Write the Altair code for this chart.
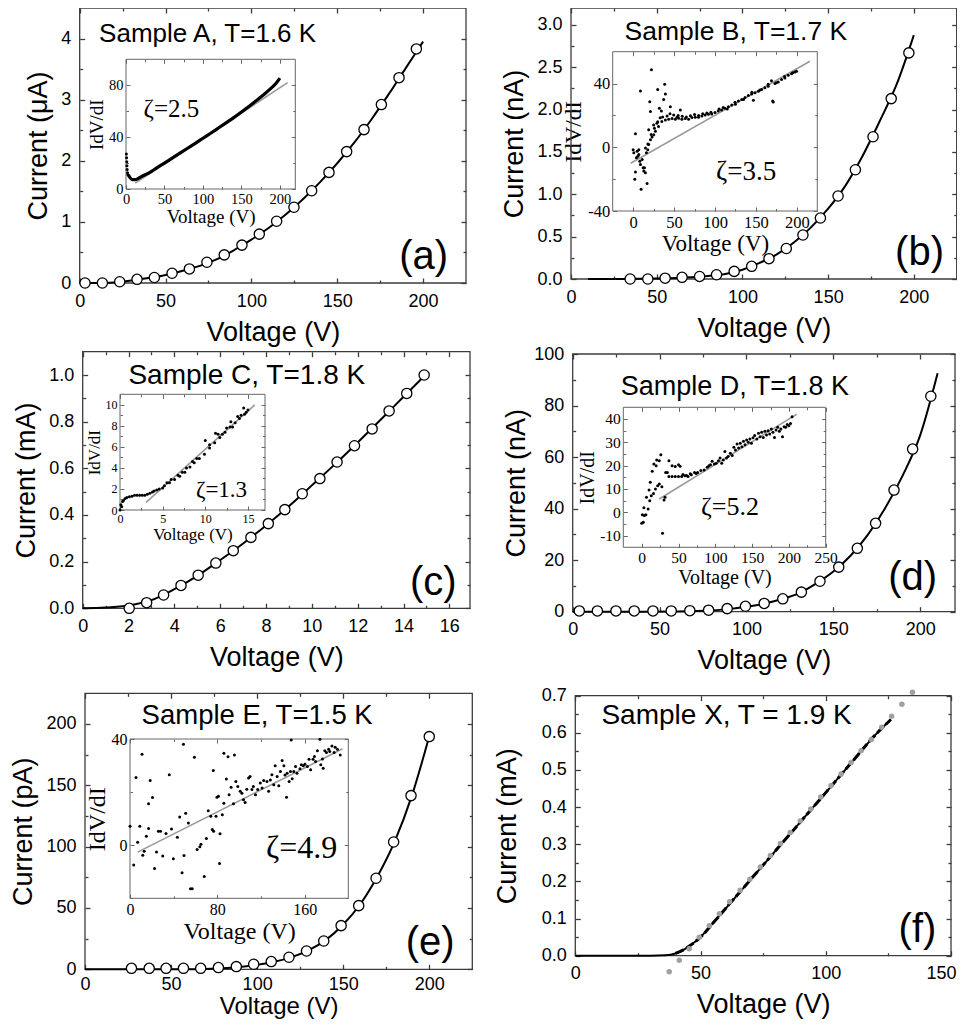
import altair as alt
import pandas as pd

W, H = 949, 1011   # whole view, page minus 8px margins
M = 8
SANS = "Liberation Sans"
SERIF = "Liberation Serif"

# ---------------- text ----------------
sample_titles = ["Sample A, T=1.6 K", "Sample B, T=1.7 K", "Sample C, T=1.8 K",
                 "Sample D, T=1.8 K", "Sample E, T=1.5 K", "Sample X, T = 1.9 K"]
panel_tags = ["(a)", "(b)", "(c)", "(d)", "(e)", "(f)"]
y_titles = ["Current (μA)", "Current (nA)", "Current (mA)", "Current (nA)", "Current (pA)", "Current (mA)"]
zeta_labels = ["ζ=2.5", "ζ=3.5", "ζ=1.3", "ζ=5.2", "ζ=4.9"]
x_title = "Voltage (V)"
inset_y_title = "IdV/dI"

# ---------------- panel (a) ----------------
a_circ_v = [3.1, 13.2, 23.3, 33.4, 43.5, 53.8, 63.9, 74.1, 84.2, 94.5, 104.6, 114.7, 124.8, 135.1, 145.2, 155.5, 165.6, 175.7, 186.0, 196.1]
a_circ_i = [0.0, 0.0, 0.02, 0.06, 0.09, 0.16, 0.23, 0.34, 0.46, 0.62, 0.80, 1.01, 1.24, 1.51, 1.81, 2.15, 2.51, 2.92, 3.36, 3.83]
a_fit_v = [0, 10, 20, 30, 40, 50, 60, 70, 80, 90, 100, 110, 120, 130, 140, 150, 160, 170, 180, 190, 200]
a_fit_i = [0, 0.0, 0.01, 0.04, 0.08, 0.13, 0.2, 0.28, 0.39, 0.54, 0.71, 0.90, 1.12, 1.37, 1.65, 1.96, 2.30, 2.68, 3.09, 3.52, 3.95]
a_ins_dots = [(0.5, 27), (0.8, 24), (1.0, 21), (1.2, 18), (1.5, 15), (2.0, 12.5), (2.5, 11)]
a_ins_curve_v = [3, 5, 8, 12, 16, 20, 30, 40, 50, 60, 70, 80, 90, 100, 110, 120, 130, 140, 150, 160, 170, 180, 190, 195, 200]
a_ins_curve_r = [11, 9, 7.3, 7.2, 8.2, 9.6, 12.5, 16.3, 20, 23.8, 27.6, 31.4, 35.2, 39.1, 43, 47, 51, 55, 59.3, 63.8, 68.4, 73.2, 78.5, 81.5, 85.5]
a_ins_fit_v = [12, 210]
a_ins_fit_r = [4.5, 82]

# ---------------- panel (b) ----------------
b_circ_v = [34.5, 44.8, 54.9, 64.8, 75.0, 84.9, 95.2, 105.4, 115.5, 125.6, 135.3, 145.5, 155.8, 165.9, 176.2, 186.8, 197.1]
b_circ_i = [0.0, 0.0, 0.01, 0.02, 0.03, 0.05, 0.09, 0.15, 0.24, 0.36, 0.52, 0.72, 0.98, 1.29, 1.68, 2.13, 2.67]
b_fit_v = [10, 30, 50, 70, 80, 90, 100, 110, 120, 130, 140, 150, 160, 170, 180, 190, 200]
b_fit_i = [0, 0, 0.005, 0.02, 0.035, 0.06, 0.11, 0.19, 0.29, 0.43, 0.61, 0.83, 1.10, 1.45, 1.86, 2.30, 2.88]
b_ins_pts = [(22.3, 48.7), (8.9, 35.4), (30, 36.3), (38.5, 39.6), (39.4, 33.4), (37.3, 30), (20.3, 28.6),
             (21.1, 22.4), (32, 24.5), (34.5, 22.8), (45.4, 25.5), (57.6, 23.4), (2.8, 8.5), (19, 11),
             (25, 14), (29, 15.1), (31, 13), (35, 16.2), (39.4, 17.2), (43.4, 17.6), (47.5, 18), (51.5, 17.6),
             (55.6, 18.2), (59.6, 17.6), (63.7, 18), (67.7, 17.6), (71.8, 18.7), (75.9, 18.9), (79.9, 18.9),
             (84, 19.7), (88, 20.3), (92, 20.7), (96, 20.9), (100, 21.8), (104, 22.8), (108, 23.4), (112, 24.5),
             (116.4, 25.5), (120.5, 26.5), (124.5, 28.2), (128.6, 29), (132.7, 30), (136.7, 31.3), (140.8, 32.5),
             (144.8, 33.4), (146.9, 29.6), (148.9, 34.2), (153, 35.2), (157, 36.3), (161, 37.3), (165, 38.3),
             (169, 41.7), (170.4, 29), (171.2, 28.4), (173.2, 40), (177.3, 41), (181.3, 42.5), (185.4, 43.5),
             (189.5, 45.2), (193.5, 46.2), (197.6, 47.3), (199.6, 47.7), (0, -1.5), (0.8, -3.5), (2, -20),
             (2.8, -15.5), (4, -6.6), (5.7, -5.6), (6.9, -4.6), (8.1, -8.7), (8.9, -10.8), (9.7, -26.3),
             (11, -7.7), (12.2, -12.8), (13, -14.9), (13.8, -12.8), (15, -16), (16.2, -3.5), (17, -22.8),
             (17.8, -1.5), (19, 1.7), (21.1, 4.8), (23.1, 6.4), (25.2, 7.9), (27.2, 10), (6.9, -1.5), (4.9, -2.5),
             (15, -0.4), (41.4, 19.7), (49.5, 20.3), (53.5, 18.9), (45, 21), (55, 20), (60, 19.5), (65, 19),
             (70, 19.8), (75, 20.5), (80, 20), (85, 21), (90, 21.5), (95, 22), (105, 24), (110, 25), (115, 24),
             (125, 27), (135, 30), (145, 34.5), (155, 36), (165, 39.5), (175, 40.5), (185, 44.5), (195, 46.8),
             (18, 2), (22, 8), (26, 12), (30, 16), (33, 18.5), (36, 19)]
b_ins_fit_v = [-3, 216]
b_ins_fit_r = [-10, 54]

# ---------------- panel (c) ----------------
c_circ_v = [2.03, 2.79, 3.53, 4.29, 5.04, 5.81, 6.57, 7.34, 8.10, 8.82, 9.58, 10.35, 11.10, 11.86, 12.63, 13.37, 14.14, 14.90]
c_circ_i = [0.0, 0.024, 0.057, 0.098, 0.142, 0.194, 0.247, 0.304, 0.363, 0.423, 0.491, 0.556, 0.627, 0.697, 0.769, 0.846, 0.921, 1.0]
c_fit_v = [0, 1, 2, 3, 4, 5, 6, 7, 8, 9, 10, 11, 12, 13, 14, 15.05]
c_fit_i = [0, 0.003, 0.012, 0.035, 0.082, 0.139, 0.207, 0.278, 0.355, 0.438, 0.527, 0.617, 0.711, 0.808, 0.907, 1.01]
c_ins_pts = [(0, 0), (0.1, 0.5), (0.3, 0.8), (0.6, 1.1), (1.1, 1.26), (1.7, 1.4), (2.3, 1.4), (2.9, 1.4), (3.5, 1.6),
             (4, 1.8), (4.6, 2.0), (5.2, 2.3), (5.8, 2.6), (6.4, 2.9), (7, 3.2), (7.6, 3.6), (8.2, 4.1), (8.7, 4.5),
             (9.3, 4.9), (9.9, 5.3), (10.5, 5.9), (11.1, 6.4), (11.7, 6.9), (12.3, 7.4), (12.9, 7.9), (13.5, 8.3),
             (14, 8.7), (14.6, 9.1), (15, 9.5), (10.0, 6.6), (10.5, 6.2), (11.2, 7.3), (11.5, 7.2), (12.0, 7.2),
             (12.5, 7.8), (13.0, 8.4), (13.2, 7.9), (13.8, 8.9), (14.2, 9.0), (14.5, 9.7), (14.8, 9.3), (9.0, 4.9),
             (8.5, 4.6), (7.8, 4.0), (7.3, 3.6), (6.8, 3.3), (6.0, 2.9), (5.5, 2.6), (5.0, 2.1), (0.2, 0.3),
             (0.4, 0.9), (0.8, 1.2), (1.4, 1.3), (2.0, 1.4), (2.6, 1.4), (3.2, 1.5), (3.8, 1.7), (4.3, 1.9)]
c_ins_fit_v = [3.06, 15.8]
c_ins_fit_r = [0.72, 10.0]

# ---------------- panel (d) ----------------
d_circ_v = [3.8, 14.2, 24.9, 35.4, 46.2, 56.7, 67.4, 78.2, 88.9, 99.4, 110.2, 120.9, 131.6, 142.3, 153.1, 163.8, 174.3, 184.9, 195.6, 206.1]
d_circ_i = [0.3, 0.3, 0.3, 0.3, 0.3, 0.3, 0.4, 0.6, 1.2, 2.1, 3.2, 5.0, 7.6, 11.8, 17.3, 24.6, 34.3, 47.2, 63.1, 83.6]
d_fit_v = [0, 20, 40, 60, 80, 90, 100, 110, 120, 130, 140, 150, 160, 170, 180, 190, 200, 210]
d_fit_i = [0, 0, 0, 0.1, 0.5, 1.0, 1.9, 3.1, 4.8, 7.1, 10.9, 15.6, 21.8, 30.0, 40.4, 53.0, 68.5, 92.5]
d_ins_pts = [(0, -4.7), (2.2, -4.3), (0.9, -1), (3.5, -1.4), (5.7, -1.1), (3, 1.9), (8.7, 1.4), (6.5, 6.4),
             (10, 9.6), (11.7, 12.9), (14.3, 17.6), (16.5, 20.7), (19.6, 20), (20.4, 22.4), (23.9, 22.1),
             (26, 24.7), (10.9, 5), (13, 7.1), (16, 8.1), (18.7, 10), (21.7, 11.4), (23.9, 12.1), (27.4, 11),
             (28.3, -9), (30.4, 5.3), (31.7, 6.4), (32.6, 17.1), (34.8, 17.1), (37, 22.1), (41.3, 20),
             (45.6, 19.6), (50, 20.4), (52.2, 19.7), (37, 15.3), (41.3, 15.3), (45.6, 15.3), (50, 15.3),
             (54.3, 15.3), (58.7, 15.7), (63, 15.3), (67.4, 16.1), (71.7, 17.1), (76, 17.1), (80.4, 17.9),
             (84.8, 18.1), (89, 19.3), (91.3, 20), (93.5, 20.4), (95.7, 21.9), (98.7, 20.7), (101.3, 21),
             (104.3, 22.1), (106.5, 23.3), (108.7, 21), (110.9, 22.4), (113, 26.1), (115.2, 23.3), (117.4, 23.9),
             (120.4, 25.3), (123, 24.3), (125.2, 27.9), (127.4, 26.7), (129.6, 29.3), (131.7, 27.6), (133.9, 29.6),
             (136.1, 28.1), (138.3, 30.4), (140.4, 29), (142.6, 31), (144.8, 30), (147, 31.4), (149.1, 29.6),
             (151.3, 31.9), (153.5, 32.9), (156.5, 31.4), (158.7, 33.9), (160.9, 32.4), (163, 34.3), (165.2, 32.1),
             (167.4, 34.7), (169.6, 33.1), (171.7, 35), (173.9, 33.6), (176.1, 35.7), (178.3, 34.3), (180.4, 32.1),
             (182.6, 35.3), (184.8, 36.4), (187, 34.7), (189.1, 35.7), (191.3, 32.4), (193.5, 36.7), (195.7, 36.4),
             (197.8, 37.6), (200, 37.1), (202.2, 38.1), (204.3, 41), (56, 16.2), (61, 15.8), (66, 16.5), (74, 16.6)]
d_ins_fit_v = [23.9, 210.9]
d_ins_fit_r = [5.7, 42.1]

# ---------------- panel (e) ----------------
e_circ_v = [27.0, 37.3, 47.1, 57.2, 67.2, 77.5, 87.9, 98.0, 108.2, 118.5, 128.7, 138.7, 148.8, 159.0, 169.1, 179.3, 189.4, 200.0]
e_circ_i = [0.8, 0.8, 0.8, 0.8, 0.8, 1.4, 2.2, 4.1, 6.3, 9.8, 14.9, 23.1, 35.6, 51.9, 74.2, 103.8, 141.6, 189.7]
e_fit_v = [0, 20, 40, 60, 70, 80, 90, 100, 110, 120, 130, 140, 150, 160, 170, 180, 190, 200]
e_fit_i = [0, 0, 0, 0.1, 0.3, 0.8, 1.9, 3.6, 6.1, 9.9, 15.6, 24.0, 36.5, 53.2, 76.0, 104.5, 142.0, 190.0]
e_ins_pts = [(0, 7.1), (3.4, -7.5), (5.5, 25.5), (7, 1.1), (9, 7.1), (11, 34.3), (11.7, -3.8), (13, -2.3),
             (15, 3.4), (17, 15.6), (17, 6.3), (18.5, 24.4), (20.6, 18), (22.5, -8.8), (24.3, -2.6), (26, 5.3),
             (28, 5.3), (30, -4.1), (33, 4.4), (36, 26.5), (38, 6.1), (39.7, -5.1), (43.4, 3), (45.5, 10.6),
             (47.7, -10.4), (49, 38), (49.5, -3.9), (51, 12), (53.5, 8.4), (55.4, -16.4), (57, -16.4), (59, 33.1),
             (61.5, -1.6), (64, -0.6), (65, 0.4), (68, -11.8), (70, 2.5), (71.7, 13), (74, 10.9), (75.4, 5.9),
             (76.6, 5.3), (76.3, 28.1), (78.8, 10.9), (79.7, 18.1), (81, 18.4), (82, -6.9), (82.5, 4.3), (84.6, 11.5),
             (86, 34.6), (86, 15.8), (88.3, 24.9), (89.8, 33.3), (90.8, 19), (92.6, 21.8), (95.7, 34), (94.8, 15.6),
             (97, 24), (98.8, 22.1), (101, 20.3), (102.5, 19.6), (104, 17.1), (105.5, 16.1), (107, 21.1),
             (108.6, 25.3), (110, 25.9), (111.7, 21), (113, 22.1), (115, 19), (117, 21), (119.4, 23.4), (121, 21.5),
             (122.5, 24.4), (125.5, 24), (127, 20.3), (128.6, 24.6), (130, 26.5), (131.7, 22.8), (133, 29.9),
             (134.8, 25.9), (136.3, 22.4), (137.8, 27.8), (139.4, 31.9), (141, 29.9), (142, 26.4), (143.4, 18.1),
             (144, 27.1), (145.8, 24), (147, 27.8), (147.7, 39.6), (148.6, 25), (150, 27.8), (151.7, 29.6),
             (153, 27.1), (155.7, 28.8), (157, 30.3), (158.8, 29.9), (160.3, 30.5), (162.5, 29.6), (164, 32.4),
             (165.5, 28.4), (167.7, 32.4), (169, 33.4), (170, 31.5), (171.7, 35.6), (174, 39.9), (174.8, 30.3),
             (176.3, 32.5), (177, 29), (178.5, 35.6), (180, 34.9), (182, 36.1), (183, 35.3), (185, 37.4),
             (187, 34.9), (188, 36.9), (190, 36.1), (192.6, 34)]
e_ins_fit_v = [7, 194.8]
e_ins_fit_r = [-2.6, 36.3]

# ---------------- panel (f) ----------------
f_dot_v = [37.5, 41.5, 45.5, 49.5, 53.5, 57.5, 61.6, 65.8, 69.7, 73.9, 77.9, 81.9, 85.8, 89.8, 94.0, 98.0, 102.1, 106.1, 110.1, 114.1, 118.2, 122.3, 126.3, 130.4, 134.6]
f_dot_i = [-0.043, -0.012, 0.019, 0.050, 0.081, 0.113, 0.145, 0.176, 0.206, 0.239, 0.270, 0.302, 0.332, 0.363, 0.395, 0.427, 0.458, 0.489, 0.520, 0.552, 0.582, 0.615, 0.645, 0.677, 0.709]
f_fit_v = [0, 30, 36, 40, 43, 46, 50, 55, 60, 70, 80, 90, 100, 110, 120, 126]
f_fit_i = [0, 0, 0.001, 0.006, 0.015, 0.028, 0.05, 0.088, 0.127, 0.205, 0.283, 0.361, 0.439, 0.518, 0.596, 0.636]


# =============== helpers ===============
class Box:
    """A plot box: data domains and its place on the page (page pixels)."""
    def __init__(self, xdom, ydom, L, R, B, T):
        self.xdom, self.ydom = list(xdom), list(ydom)
        self.xr = [L - M, R - M]
        self.yr = [B - M, T - M]
        self.df = pd.DataFrame({"x0": [xdom[0]], "x1": [xdom[1]], "y0": [ydom[0]], "y1": [ydom[1]]})

    def sx(self):
        return alt.Scale(domain=self.xdom, range=self.xr, nice=False, zero=False)

    def sy(self):
        return alt.Scale(domain=self.ydom, range=self.yr, nice=False, zero=False)

    def enc(self, chart, **extra):
        return chart.encode(x=alt.X("x:Q", scale=self.sx(), axis=None),
                            y=alt.Y("y:Q", scale=self.sy(), axis=None), **extra)


def frame_ticks(b, xmaj, ymaj, xmin, ymin, big, small, color, sw):
    L, R = b.xr
    B, T = b.yr
    out = []
    for ox, oy, xv, yv, ts, draw in [("top", "right", xmaj, ymaj, big, True),
                                     ("bottom", "left", xmaj, ymaj, big, False),
                                     ("top", "right", xmin, ymin, small, False),
                                     ("bottom", "left", xmin, ymin, small, False)]:
        xoff = -(T + ts) if ox == "top" else (B - ts - H)
        yoff = (R - ts - W) if oy == "right" else -(L + ts)
        common = dict(labels=False, domain=False, grid=False, ticks=True, tickSize=ts,
                      tickColor=color, tickWidth=sw, title=None)
        if draw:
            base = alt.Chart(b.df).mark_rect(fillOpacity=0, stroke=color, strokeWidth=sw)
        else:
            base = alt.Chart(b.df).mark_rect(opacity=0)
        out.append(base.encode(
            x=alt.X("x0:Q", scale=b.sx(), axis=alt.Axis(orient=ox, offset=xoff, values=xv, **common)),
            x2="x1",
            y=alt.Y("y0:Q", scale=b.sy(), axis=alt.Axis(orient=oy, offset=yoff, values=yv, **common)),
            y2="y1"))
    return out


def label_axes(b, xvals, yvals, ytitle, font, lsize, tsize, lpx, lpy, tpx, tpy, yfmt=None, xextra=None,
               plain_minus=False):
    L, R = b.xr
    B, T = b.yr
    common = dict(ticks=False, domain=False, grid=False, labelFont=font, labelFontSize=lsize,
                  labelColor="black", labelFlush=False, labelOverlap=False, titleFont=font,
                  titleFontSize=tsize, titleFontWeight="normal", titleColor="black")
    xkw = dict(common, orient="bottom", offset=B - H, values=xvals, labelPadding=lpx,
               titlePadding=tpx, title=x_title)
    if xextra:
        xkw.update(xextra)
    ykw = dict(common, orient="left", offset=-L, values=yvals, labelPadding=lpy,
               titlePadding=tpy, title=ytitle)
    if yfmt:
        ykw["format"] = yfmt
    if plain_minus:
        ykw["labelExpr"] = "'' + datum.value"
    return alt.Chart(b.df).mark_rect(opacity=0).encode(
        x=alt.X("x0:Q", scale=b.sx(), axis=alt.Axis(**xkw)), x2="x1",
        y=alt.Y("y0:Q", scale=b.sy(), axis=alt.Axis(**ykw)), y2="y1")


def text(b, x, y, s, font, size):
    df = pd.DataFrame({"x": [x], "y": [y], "t": [s]})
    return b.enc(alt.Chart(df).mark_text(font=font, fontSize=size, color="black",
                                         align="center", baseline="middle"), text="t:N")


def xy(xs, ys):
    return pd.DataFrame({"x": xs, "y": ys})


def pts(pairs):
    return pd.DataFrame({"x": [p[0] for p in pairs], "y": [p[1] for p in pairs]})


layers = []
MAIN_C, MAIN_W = "#3c3c3c", 1.3
INS_C, INS_W = "#666666", 1.0


def main_panel(b, xmaj, ymaj, xmin, ymin, ytitle, yfmt, circ_v, circ_i, fit_v, fit_i, title, tsize, tpos,
               tag, gpos, xextra=None, lpx=9, tpy=8):
    layers.extend(frame_ticks(b, xmaj, ymaj, xmin, ymin, 5, 3, MAIN_C, MAIN_W))
    layers.append(label_axes(b, xmaj, ymaj, ytitle, SANS, 18, 27, lpx, 9, 9, tpy, yfmt, xextra))
    layers.append(b.enc(alt.Chart(xy(fit_v, fit_i)).mark_line(color="black", strokeWidth=2, interpolate="monotone")))
    if circ_v:
        layers.append(b.enc(alt.Chart(xy(circ_v, circ_i)).mark_circle(
            size=105, fill="white", stroke="black", strokeWidth=1.3, opacity=1)))
    layers.append(text(b, tpos[0], tpos[1], title, SANS, tsize))
    layers.append(text(b, gpos[0], gpos[1], tag, SANS, 40))


def inset(b, xmaj, ymaj, xmin, ymin, lsize, tsize, dots_df, fit_v, fit_r, zeta, zpos, zsize):
    layers.extend(frame_ticks(b, xmaj, ymaj, xmin, ymin, 4, 2.5, INS_C, INS_W))
    layers.append(label_axes(b, xmaj, ymaj, inset_y_title, SERIF, lsize, tsize, 3, 3, 2, 2, plain_minus=True))
    layers.append(b.enc(alt.Chart(xy(fit_v, fit_r)).mark_line(color="#9a9a9a", strokeWidth=1.6)))
    layers.append(b.enc(alt.Chart(dots_df).mark_circle(size=9, color="black", opacity=1)))
    layers.append(text(b, zpos[0], zpos[1], zeta, SERIF, zsize))


# ---- (a)
A = Box([0, 225], [0, 4.5], 79.7, 466, 283, 8)
main_panel(A, [0, 50, 100, 150, 200], [0, 1, 2, 3, 4], [25, 75, 125, 175], [0.5, 1.5, 2.5, 3.5],
           y_titles[0], None, a_circ_v, a_circ_i, a_fit_v, a_fit_i,
           sample_titles[0], 26, (74.5, 4.07), panel_tags[0], (200.3, 0.42))
Ai = Box([0, 220], [0, 100], 126, 295.3, 189, 59.3)
inset(Ai, [0, 50, 100, 150, 200], [0, 40, 80], [25, 75, 125, 175], [20, 60], 14.5, 19,
      pts(a_ins_dots), a_ins_fit_v, a_ins_fit_r, zeta_labels[0], (59, 62), 25)
layers.append(Ai.enc(alt.Chart(xy(a_ins_curve_v, a_ins_curve_r)).mark_line(color="black", strokeWidth=3.2, interpolate="monotone")))

# ---- (b)
Bb = Box([0, 225], [0, 3.2], 571, 956.7, 279, 8)
main_panel(Bb, [0, 50, 100, 150, 200], [0, 0.5, 1.0, 1.5, 2.0, 2.5, 3.0], [25, 75, 125, 175],
           [0.25, 0.75, 1.25, 1.75, 2.25, 2.75], y_titles[1], ".1f", b_circ_v, b_circ_i, b_fit_v, b_fit_i,
           sample_titles[1], 26.5, (96.2, 2.92), panel_tags[1], (203.3, 0.31))
Bi = Box([-25, 225], [-40, 60], 612.7, 817.3, 211, 51.7)
inset(Bi, [0, 50, 100, 150, 200], [-40, 0, 40], [25, 75, 125, 175], [-20, 20], 16.5, 23,
      pts(b_ins_pts), b_ins_fit_v, b_ins_fit_r, zeta_labels[1], (138, -15.7), 27)

# ---- (c)
C = Box([0, 16.9], [0, 1.1], 82.7, 470, 608.3, 351.7)
main_panel(C, [0, 2, 4, 6, 8, 10, 12, 14, 16], [0, 0.2, 0.4, 0.6, 0.8, 1.0], [1, 3, 5, 7, 9, 11, 13, 15],
           [0.1, 0.3, 0.5, 0.7, 0.9], y_titles[2], ".1f", c_circ_v, c_circ_i, c_fit_v, c_fit_i,
           sample_titles[2], 28, (7.16, 0.997), panel_tags[2], (15.3, 0.11))
Ci = Box([0, 17], [0, 11], 120, 265, 510, 394.3)
inset(Ci, [0, 5, 10, 15], [0, 2, 4, 6, 8, 10], [2.5, 7.5, 12.5], [1, 3, 5, 7, 9], 12, 17,
      pts(c_ins_pts), c_ins_fit_v, c_ins_fit_r, zeta_labels[2], (11.9, 1.9), 23)

# ---- (d)
D = Box([0, 220], [0, 100], 572.7, 955, 611.7, 354)
main_panel(D, [0, 50, 100, 150, 200], [0, 20, 40, 60, 80, 100], [25, 75, 125, 175], [10, 30, 50, 70, 90],
           y_titles[3], None, d_circ_v, d_circ_i, d_fit_v, d_fit_i,
           sample_titles[3], 27, (93.3, 87.3), panel_tags[3], (195.6, 13.1), tpy=3)
Di = Box([-25, 250], [-15, 45], 623.3, 825.7, 547.3, 407.3)
inset(Di, [0, 50, 100, 150, 200, 250], [-10, 0, 10, 20, 30, 40], [25, 75, 125, 175, 225],
      [-5, 5, 15, 25, 35], 15.5, 20, pts(d_ins_pts), d_ins_fit_v, d_ins_fit_r, zeta_labels[3], (120, 2.4), 26)

# ---- (e)  (axis title pinned so that it stays inside the page)
E = Box([0, 225], [0, 225], 85, 472.3, 969.3, 693.3)
main_panel(E, [0, 50, 100, 150, 200], [0, 50, 100, 150, 200], [25, 75, 125, 175], [25, 75, 125, 175],
           y_titles[4], None, e_circ_v, e_circ_i, e_fit_v, e_fit_i,
           sample_titles[4], 27.5, (100, 206.6), panel_tags[4], (200.5, 21.8),
           xextra=dict(titleY=1018.5 - 969.3, titleBaseline="bottom", titleFontSize=24), lpx=6)
Ei = Box([0, 200], [-20, 40], 130, 348.3, 898.3, 739)
inset(Ei, [0, 80, 160], [0, 40], [40, 120], [-20, 20], 16, 24,
      pts(e_ins_pts), e_ins_fit_v, e_ins_fit_r, zeta_labels[4], (157.3, -1.05), 32)

# ---- (f)
F = Box([0, 150], [0, 0.7], 575.3, 951, 955.7, 695.7)
main_panel(F, [0, 50, 100, 150], [0, 0.1, 0.2, 0.3, 0.4, 0.5, 0.6, 0.7], [25, 75, 125],
           [0.05, 0.15, 0.25, 0.35, 0.45, 0.55, 0.65], y_titles[5], ".1f", [], [], f_fit_v, f_fit_i,
           sample_titles[5], 28, (60.4, 0.646), panel_tags[5], (136.6, 0.069),
           xextra=dict(labelOffset={"condition": {"test": "datum.value >= 150", "value": -10}, "value": 0}),
           tpy=20)
layers.append(F.enc(alt.Chart(xy(f_fit_v[3:], f_fit_i[3:])).mark_line(
    color="black", strokeWidth=3, strokeDash=[9, 3], interpolate="monotone")))
layers.append(F.enc(alt.Chart(xy(f_dot_v, f_dot_i)).mark_circle(size=30, color="#a0a0a0", opacity=1)))

chart = (alt.layer(*layers)
         .resolve_scale(x="independent", y="independent")
         .resolve_axis(x="independent", y="independent")
         .properties(width=W, height=H, padding=0, background="white",
                     autosize=alt.AutoSizeParams(type="none"))
         .configure_view(strokeWidth=0, strokeOpacity=0))

chart.save("out.html", embed_options={"renderer": "svg", "actions": False})
